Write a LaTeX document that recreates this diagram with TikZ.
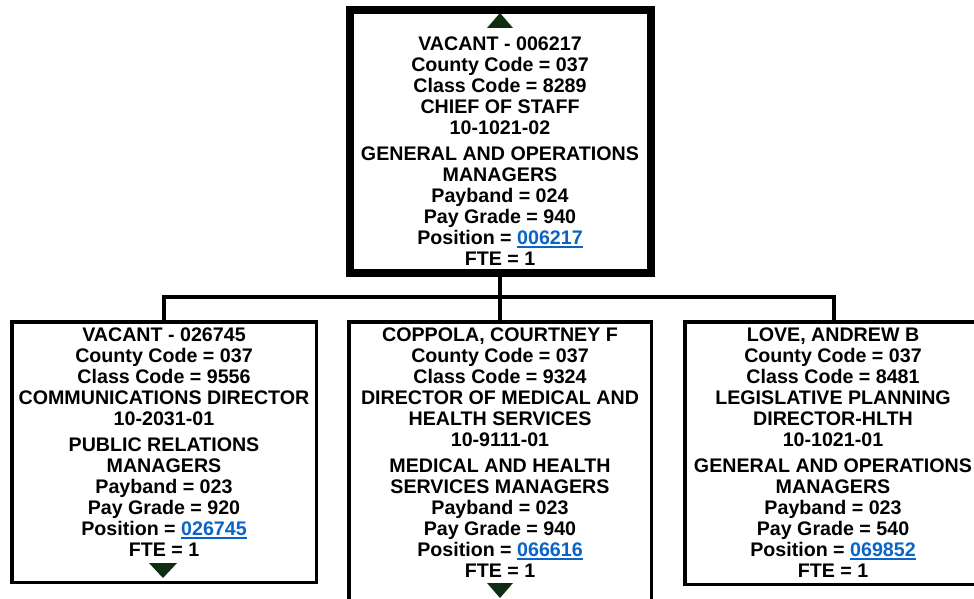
\documentclass[tikz,border=0pt]{standalone}
\usepackage{fontspec}
\setmainfont{Liberation Sans}
\definecolor{linkblue}{HTML}{0A64C8}
\definecolor{markgreen}{HTML}{0F2D12}
% position number shown as an underlined link
\newcommand\poslink[1]{\textcolor{linkblue}{\setbox0\hbox{#1}\rlap{\rule[-3pt]{\wd0}{1.8pt}}\box0}}
\begin{document}
\begin{tikzpicture}[x=1pt,y=-1pt,
  topbox/.style={draw, line width=8pt, rectangle, inner sep=0pt, outer sep=0pt, fill=white},
  childbox/.style={draw, line width=3.5pt, rectangle, inner sep=0pt, fill=white},
  info/.style={align=center, inner sep=0pt, anchor=north,
    font=\bfseries\fontsize{19.65}{21}\selectfont},
  wire/.style={line width=3.5pt, line join=miter},
  marker/.style={fill=markgreen}]
\clip (0,0) rectangle (974,599);
\fill[white] (0,0) rectangle (974,599);

% boxes
\node[topbox, minimum width=301pt, minimum height=263pt] (top) at (500,141.5) {};
\node[childbox, minimum width=304.5pt, minimum height=260.5pt] (c1) at (164,452) {};
\node[childbox, minimum width=302.5pt, minimum height=316.5pt] (c2) at (500,480) {};
\node[childbox, minimum width=298.5pt, minimum height=262.5pt] (c3) at (834,453) {};

% connectors
\coordinate (bus) at (500,297);
\draw[wire] (top.south) -- (c2.north);
\draw[wire] (c1.north) |- (bus) -| (c3.north);

% texts
\node[info] (t0) at (500,37) {VACANT - 006217\\County Code = 037\\Class Code = 8289\\CHIEF OF STAFF\\10-1021-02\\[5pt]GENERAL AND OPERATIONS\\MANAGERS\\Payband = 024\\Pay Grade = 940\\Position = \poslink{006217}\\FTE = 1};
\node[info] (t1) at (164,328) {VACANT - 026745\\County Code = 037\\Class Code = 9556\\COMMUNICATIONS DIRECTOR\\10-2031-01\\[5pt]PUBLIC RELATIONS\\MANAGERS\\Payband = 023\\Pay Grade = 920\\Position = \poslink{026745}\\FTE = 1};
\node[info] (t2) at (500,328) {COPPOLA, COURTNEY F\\County Code = 037\\Class Code = 9324\\DIRECTOR OF MEDICAL AND\\HEALTH SERVICES\\10-9111-01\\[5pt]MEDICAL AND HEALTH\\SERVICES MANAGERS\\Payband = 023\\Pay Grade = 940\\Position = \poslink{066616}\\FTE = 1};
\node[info] (t3) at (833,328) {LOVE, ANDREW B\\County Code = 037\\Class Code = 8481\\LEGISLATIVE PLANNING\\DIRECTOR-HLTH\\10-1021-01\\[5pt]GENERAL AND OPERATIONS\\MANAGERS\\Payband = 023\\Pay Grade = 540\\Position = \poslink{069852}\\FTE = 1};

% expand / collapse markers
\fill[marker] (487,28) -- (513,28) -- (500,13) -- cycle;
\fill[marker] (149,563) -- (177,563) -- (163,578) -- cycle;
\fill[marker] (487,583) -- (513,583) -- (500,598) -- cycle;
\end{tikzpicture}
\end{document}
